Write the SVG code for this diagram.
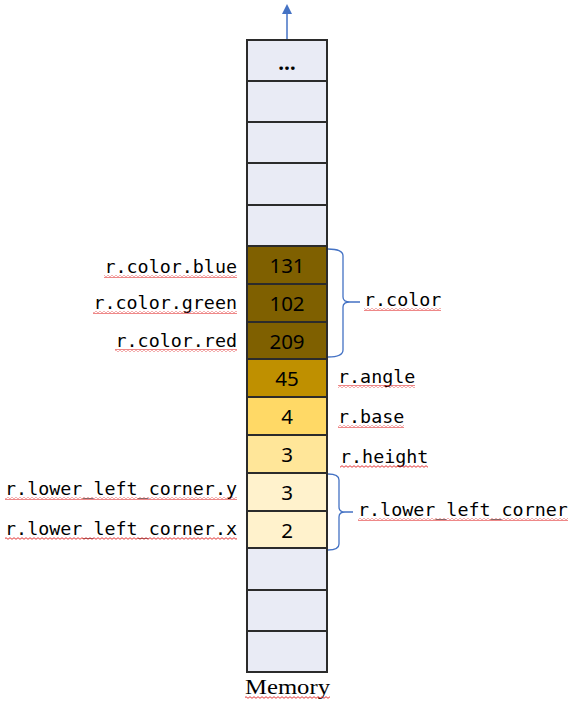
<svg xmlns="http://www.w3.org/2000/svg" width="574" height="707" viewBox="0 0 574 707">
  <style>
    .cell { stroke: #2b2b2b; stroke-width: 2; }
    .empty { fill: #E9EBF5; }
    .c1 { fill: #7F6000; }
    .c2 { fill: #BF9000; }
    .c3 { fill: #FFD966; }
    .c4 { fill: #FFE699; }
    .c5 { fill: #FFF2CC; }
    .num { font-family: "Noto Sans", "Open Sans", sans-serif; font-size: 20.5px; fill: #000; text-anchor: middle; }
    .lbl { font-family: "DejaVu Sans Mono", "Liberation Mono", monospace; font-size: 18.35px; fill: #000; }
    .end { text-anchor: end; }
    .brace { fill: none; stroke: #4472C4; stroke-width: 1.3; }
    .sq { fill: url(#squiggle); }
  </style>
  <defs>
    <pattern id="squiggle" patternUnits="userSpaceOnUse" width="4" height="3">
      <path d="M0,2.3 L2,0.7 L4,2.3" fill="none" stroke="#E02020" stroke-width="0.9"/>
    </pattern>
    <marker id="arrow" markerWidth="10" markerHeight="10" refX="5" refY="5" orient="auto" markerUnits="userSpaceOnUse">
      <path d="M0,0 L10,5 L0,10 Z" fill="#4472C4"/>
    </marker>
  </defs>

  <g id="connectors">
    <line x1="287" y1="40" x2="287" y2="9" stroke="#4472C4" stroke-width="1.5" marker-end="url(#arrow)"/>
    <path id="brace-color" class="brace" d="M328,249 Q343,249 343,256 L343,297 Q343,302 350,302 L360,302 M350,302 Q343,302 343,307 L343,350 Q343,357 328,357"/>
    <path id="brace-llc" class="brace" d="M328,474 Q339,474 339,480 L339,507 Q339,512 345,512 L353,512 M345,512 Q339,512 339,517 L339,544 Q339,550 328,550"/>
  </g>

  <g id="memory">
    <g id="cell-0"><rect class="cell empty" x="247" y="40" width="80" height="41"/><text class="num" x="287" y="70" font-weight="bold" font-size="18">…</text></g>
    <g id="cell-1"><rect class="cell empty" x="247" y="81" width="80" height="41"/></g>
    <g id="cell-2"><rect class="cell empty" x="247" y="122" width="80" height="41"/></g>
    <g id="cell-3"><rect class="cell empty" x="247" y="163" width="80" height="42"/></g>
    <g id="cell-4"><rect class="cell empty" x="247" y="205" width="80" height="41"/></g>
    <g id="cell-blue"><rect class="cell c1" x="247" y="246" width="80" height="38"/><text class="num" x="287" y="273">131</text></g>
    <g id="cell-green"><rect class="cell c1" x="247" y="284" width="80" height="38"/><text class="num" x="287" y="311">102</text></g>
    <g id="cell-red"><rect class="cell c1" x="247" y="322" width="80" height="37"/><text class="num" x="287" y="349">209</text></g>
    <g id="cell-angle"><rect class="cell c2" x="247" y="359" width="80" height="38"/><text class="num" x="287" y="386">45</text></g>
    <g id="cell-base"><rect class="cell c3" x="247" y="397" width="80" height="38"/><text class="num" x="287" y="424">4</text></g>
    <g id="cell-height"><rect class="cell c4" x="247" y="435" width="80" height="38"/><text class="num" x="287" y="462">3</text></g>
    <g id="cell-y"><rect class="cell c5" x="247" y="473" width="80" height="38"/><text class="num" x="287" y="500">3</text></g>
    <g id="cell-x"><rect class="cell c5" x="247" y="511" width="80" height="37"/><text class="num" x="287" y="538">2</text></g>
    <g id="cell-13"><rect class="cell empty" x="247" y="548" width="80" height="42"/></g>
    <g id="cell-14"><rect class="cell empty" x="247" y="590" width="80" height="41"/></g>
    <g id="cell-15"><rect class="cell empty" x="247" y="631" width="80" height="41"/></g>
  </g>

  <g id="labels">
    <g id="lbl-blue"><text class="lbl end" x="237" y="273">r.color.blue</text><rect class="sq" x="104" y="275" width="133" height="3"/></g>
    <g id="lbl-green"><text class="lbl end" x="237" y="309">r.color.green</text><rect class="sq" x="93" y="311" width="144" height="3"/></g>
    <g id="lbl-red"><text class="lbl end" x="237" y="347">r.color.red</text><rect class="sq" x="115" y="349" width="122" height="3"/></g>
    <g id="lbl-y"><text class="lbl end" x="237" y="495">r.lower_left_corner.y</text><rect class="sq" x="5" y="497" width="232" height="3"/></g>
    <g id="lbl-x"><text class="lbl end" x="237" y="535">r.lower_left_corner.x</text><rect class="sq" x="5" y="537" width="232" height="3"/></g>
    <g id="lbl-color"><text class="lbl" x="364" y="306">r.color</text><rect class="sq" x="364" y="308" width="77" height="3"/></g>
    <g id="lbl-angle"><text class="lbl" x="338" y="383">r.angle</text><rect class="sq" x="338" y="385" width="77" height="3"/></g>
    <g id="lbl-base"><text class="lbl" x="338" y="423">r.base</text><rect class="sq" x="338" y="425" width="66" height="3"/></g>
    <g id="lbl-height"><text class="lbl" x="340" y="463">r.height</text><rect class="sq" x="340" y="465" width="88" height="3"/></g>
    <g id="lbl-llc"><text class="lbl" x="358" y="516">r.lower_left_corner</text><rect class="sq" x="358" y="518" width="210" height="3"/></g>
    <g id="lbl-memory"><text x="245" y="694" font-family="Liberation Serif, serif" font-size="21" textLength="85" lengthAdjust="spacingAndGlyphs">Memory</text><rect class="sq" x="245" y="696" width="85" height="3"/></g>
  </g>
</svg>
